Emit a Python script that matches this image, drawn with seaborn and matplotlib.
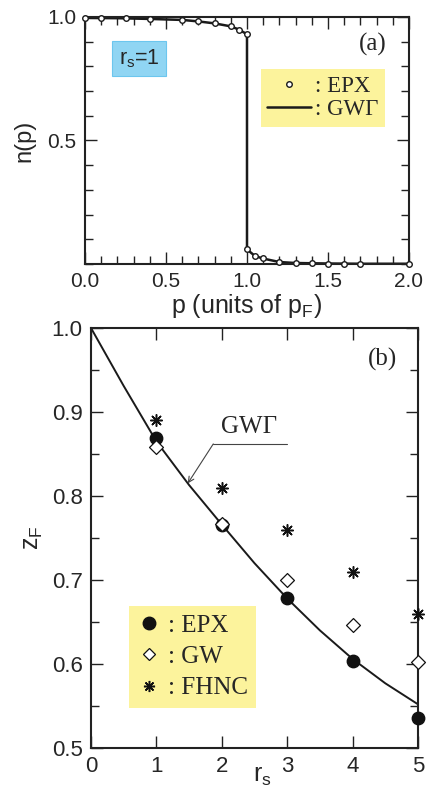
import numpy as np
import pandas as pd
import matplotlib
matplotlib.use("Agg")
import matplotlib.pyplot as plt
from matplotlib.lines import Line2D
from matplotlib.ticker import MultipleLocator
import seaborn as sns

# panel (a): momentum distribution at rs=1
p_epx = [0.0, 0.1, 0.25, 0.4, 0.6, 0.7, 0.8, 0.9, 0.95, 1.0,
         1.0, 1.05, 1.1, 1.2, 1.3, 1.4, 1.5, 1.6, 1.7, 2.0]
n_epx = [0.995, 0.995, 0.994, 0.992, 0.988, 0.982, 0.974, 0.962, 0.949, 0.930,
         0.059, 0.032, 0.023, 0.008, 0.004, 0.003, 0.002, 0.002, 0.001, 0.001]
p_gwg = [0.0, 0.2, 0.4, 0.6, 0.7, 0.8, 0.9, 0.95, 1.0,
         1.0, 1.05, 1.1, 1.2, 1.3, 1.5, 1.7, 2.0]
n_gwg = [0.996, 0.995, 0.992, 0.988, 0.982, 0.974, 0.962, 0.949, 0.930,
         0.059, 0.032, 0.022, 0.008, 0.004, 0.002, 0.001, 0.001]

# panel (b): renormalization factor
rs = [1, 2, 3, 4, 5]
z_epx = [0.869, 0.765, 0.678, 0.603, 0.536]
z_gw = [0.858, 0.767, 0.700, 0.646, 0.602]
z_fhnc = [0.890, 0.809, 0.760, 0.709, 0.660]
rs_line = [0, 0.5, 1, 1.5, 2, 2.5, 3, 3.5, 4, 4.5, 5]
z_line = [1.0, 0.931, 0.865, 0.813, 0.766, 0.720, 0.678, 0.640, 0.606, 0.577, 0.552]

sns.set_style("ticks")
plt.rcParams['font.family'] = ['Liberation Sans', 'DejaVu Sans']
plt.rcParams['mathtext.fontset'] = 'custom'
plt.rcParams['mathtext.rm'] = 'Liberation Sans'
plt.rcParams['mathtext.it'] = 'Liberation Sans'
SERIF = ['Liberation Serif', 'DejaVu Serif']
YELLOW = '#fcf39c'

fig = plt.figure(figsize=(4.28, 7.89), dpi=100)
ax1 = fig.add_axes([0.1986, 0.6654, 0.757, 0.3131])
ax2 = fig.add_axes([0.2126, 0.0520, 0.764, 0.5323])


def style_axes(ax, lsize):
    for s in ax.spines.values():
        s.set_linewidth(1.5)
        s.set_color('#222222')
    ax.tick_params(which='both', direction='in', top=True, right=True,
                   width=1.0, color='#222222', labelsize=lsize, pad=6)
    ax.tick_params(which='major', length=8.5)
    ax.tick_params(which='minor', length=5.5)


# ---- (a)
dfa = pd.DataFrame({'p': p_gwg, 'n': n_gwg})
sns.lineplot(data=dfa, x='p', y='n', sort=False, estimator=None,
             color='#1a1a1a', lw=1.8, ax=ax1)
ax1.scatter(p_epx, n_epx, s=16, facecolor='white', edgecolor='#1a1a1a',
            linewidth=1.0, zorder=3, clip_on=False)
ax1.set_xlim(0, 2.0)
ax1.set_ylim(0, 1.0)
ax1.xaxis.set_major_locator(MultipleLocator(0.5))
ax1.xaxis.set_minor_locator(MultipleLocator(0.1))
ax1.set_yticks([0.5, 1.0])
ax1.set_yticklabels(['0.5', '1.0'])
ax1.yaxis.set_minor_locator(MultipleLocator(0.1))
style_axes(ax1, 15)
ax1.set_xlabel('p (units of p$_{\\rm F}$)', fontsize=18)
ax1.set_ylabel('n(p)', fontsize=17)
ax1.xaxis.set_label_coords(0.5, -0.112)
ax1.yaxis.set_label_coords(-0.152, 0.5)

h_a = [Line2D([], [], ls='none', marker='o', ms=4, mfc='white', mec='#1a1a1a', mew=1.0),
       Line2D([], [], color='#1a1a1a', lw=1.8)]
leg = ax1.legend(h_a, [': EPX', ': GW\u0393'], loc='upper right',
                 bbox_to_anchor=(0.926, 0.789), borderaxespad=0, frameon=True,
                 prop={'family': SERIF, 'size': 16.5}, handlelength=1.9,
                 handletextpad=0.2, labelspacing=0.12, borderpad=0.28, fancybox=False)
leg.get_frame().set_facecolor(YELLOW)
leg.get_frame().set_edgecolor('none')
leg.get_frame().set_alpha(1)

ax1.text(0.167, 0.832, '$r_{\\rm s}$=1', transform=ax1.transAxes, fontsize=15.5,
         ha='center', va='center',
         bbox=dict(boxstyle='square,pad=0.3', facecolor='#90d5f3', edgecolor='#6cc6ee', lw=0.8))
ax1.text(0.889, 0.887, '(a)', transform=ax1.transAxes, fontsize=18,
         family=SERIF, ha='center', va='center')

# ---- (b)
dfb = pd.DataFrame({'rs': rs_line, 'z': z_line})
sns.lineplot(data=dfb, x='rs', y='z', color='#1a1a1a', lw=1.4, ax=ax2)
ax2.scatter(rs, z_epx, s=80, color='#111111', marker='o', zorder=3, clip_on=False)
ax2.scatter(rs, z_gw, s=50, facecolor='white', edgecolor='#111111', marker='D',
            linewidth=0.9, zorder=3, clip_on=False)
ax2.scatter(rs, z_fhnc, s=70, color='#111111', marker=(8, 2, 0), linewidth=1.1,
            zorder=3, clip_on=False)
ax2.set_xlim(0, 5)
ax2.set_ylim(0.5, 1.0)
ax2.xaxis.set_major_locator(MultipleLocator(1))
ax2.yaxis.set_major_locator(MultipleLocator(0.1))
ax2.yaxis.set_minor_locator(MultipleLocator(0.05))
ax2.set_yticklabels([f'{v:.1f}' for v in ax2.get_yticks()])
style_axes(ax2, 16)
ax2.set_xlabel('r$_{\\rm s}$', fontsize=18)
ax2.set_ylabel('z$_{\\rm F}$', fontsize=18)
ax2.xaxis.set_label_coords(0.523, -0.038)
ax2.yaxis.set_label_coords(-0.14, 0.5)

ax2.plot([1.87, 2.99], [0.862, 0.862], color='#444444', lw=0.8)
ax2.annotate('', xy=(1.48, 0.815), xytext=(1.87, 0.862),
             arrowprops=dict(arrowstyle='->', color='#444444', lw=0.8, shrinkA=0, shrinkB=0))
ax2.text(2.41, 0.882, 'GW\u0393', fontsize=18, family=SERIF, ha='center', va='center')
ax2.text(0.893, 0.926, '(b)', transform=ax2.transAxes, fontsize=18,
         family=SERIF, ha='center', va='center')

h_b = [Line2D([], [], ls='none', marker='o', ms=9, color='#111111'),
       Line2D([], [], ls='none', marker='D', ms=6.5, mfc='white', mec='#111111', mew=0.9),
       Line2D([], [], ls='none', marker=(8, 2, 0), ms=8, color='#111111', mew=1.1)]
leg2 = ax2.legend(h_b, [': EPX', ': GW', ': FHNC'], loc='lower left',
                  bbox_to_anchor=(0.116, 0.095), borderaxespad=0, frameon=True,
                  prop={'family': SERIF, 'size': 18}, handlelength=0.9,
                  handletextpad=0.3, labelspacing=0.35, borderpad=0.35, fancybox=False)
leg2.get_frame().set_facecolor(YELLOW)
leg2.get_frame().set_edgecolor('none')
leg2.get_frame().set_alpha(1)

plt.savefig('out.png', dpi=100)
plt.close()
